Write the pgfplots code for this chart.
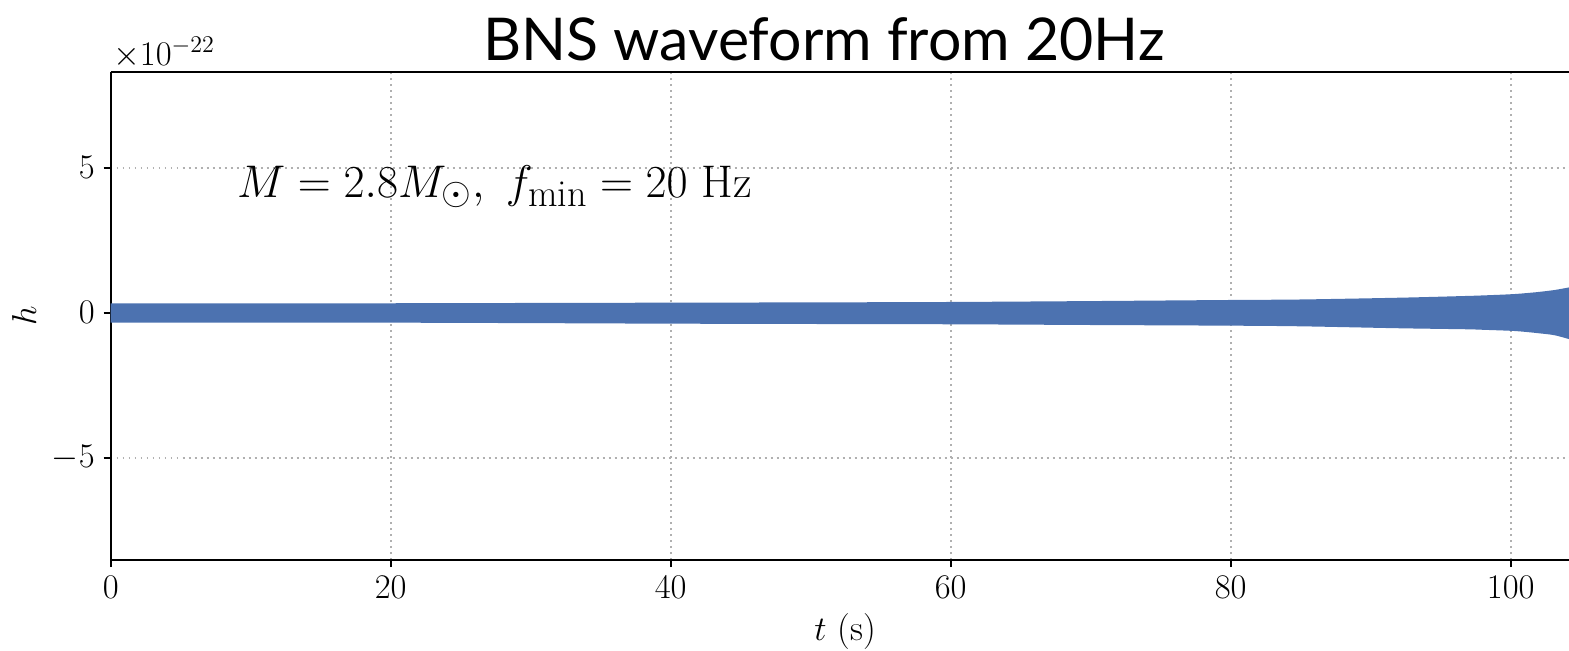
\documentclass[border=0pt]{standalone}
\usepackage{pgfplots}
\pgfplotsset{compat=1.18}
\usepgfplotslibrary{fillbetween}
\usepackage{fontspec}
\newfontfamily\titlefont{Lato}
\definecolor{wave}{HTML}{4C72B0}
\definecolor{gridgray}{HTML}{B0B0B0}

% upper and lower envelope of the strain h(t), in units of 1e-22
\pgfplotstableread{
t       up      lo
0       0.325  -0.345
10      0.325  -0.345
20      0.325  -0.345
30      0.335  -0.360
40      0.345  -0.379
50      0.355  -0.390
60      0.369  -0.400
70      0.400  -0.425
80      0.438  -0.448
85      0.455  -0.470
92.1    0.517  -0.538
96.8    0.576  -0.572
98      0.595  -0.590
100     0.635  -0.625
101     0.670  -0.660
102     0.715  -0.710
103.1   0.780  -0.775
104.16  0.870  -0.910
}\envelope

\begin{document}
\begin{tikzpicture}
\begin{axis}[
    at={(0,0)}, anchor=south west,
    width=734.3pt, height=244.15pt,
    scale only axis,
    xmin=0, xmax=104.9,
    ymin=-8.53, ymax=8.31,
    axis x line*=box, axis y line*=left,
    xtick pos=bottom, ytick pos=left,
    tick align=outside,
    major tick length=3.5pt,
    xtick={0,20,40,60,80,100},
    ytick={-5,0,5},
    axis line style={line width=1pt, black, -},
    every tick/.style={line width=1pt, black},
    grid=major,
    grid style={gridgray, line width=0.9pt, dash pattern=on 0.9pt off 2.1pt},
    tick label style={font=\fontsize{16}{16}\selectfont},
    xticklabel style={yshift=-1pt},
    yticklabel style={xshift=-1pt},
    xlabel={$t$ (s)},
    ylabel={$h$},
    x label style={at={(axis description cs:0.5,0)}, anchor=base,
                   yshift=-40pt, font=\fontsize{18}{18}\selectfont},
    y label style={at={(axis description cs:-0.059,0.5)}, anchor=center,
                   font=\fontsize{18}{18}\selectfont},
    clip=false,
]
\addplot[name path=upper, draw=none, smooth, forget plot] table[x=t, y=up] {\envelope};
\addplot[name path=lower, draw=none, smooth, forget plot] table[x=t, y=lo] {\envelope};
\addplot[fill=wave, draw=none] fill between[of=upper and lower];

\node[anchor=base west, font=\fontsize{24.88}{24.88}\selectfont, inner sep=0pt, scale=0.92]
    at (axis cs:9,3.96) {$M = 2.8M_\odot,\ f_{\mathrm{min}} = 20\ \mathrm{Hz}$};

\node[anchor=base west, font=\fontsize{16.5}{16.5}\selectfont, inner sep=0pt]
    at (rel axis cs:0,1) [xshift=1pt, yshift=3.3pt] {$\times 10^{-22}$};

\node[anchor=base, font=\titlefont\fontsize{29.5}{29.5}\selectfont, inner sep=0pt]
    at (axis cs:50.95,8.31) [yshift=5.85pt] {BNS waveform from 20Hz};
\end{axis}
% the figure frame; the plot runs on past its right edge
\pgfresetboundingbox
\path[use as bounding box] (-55.35pt,-45pt) rectangle (729.15pt,280pt);
\end{tikzpicture}
\end{document}
